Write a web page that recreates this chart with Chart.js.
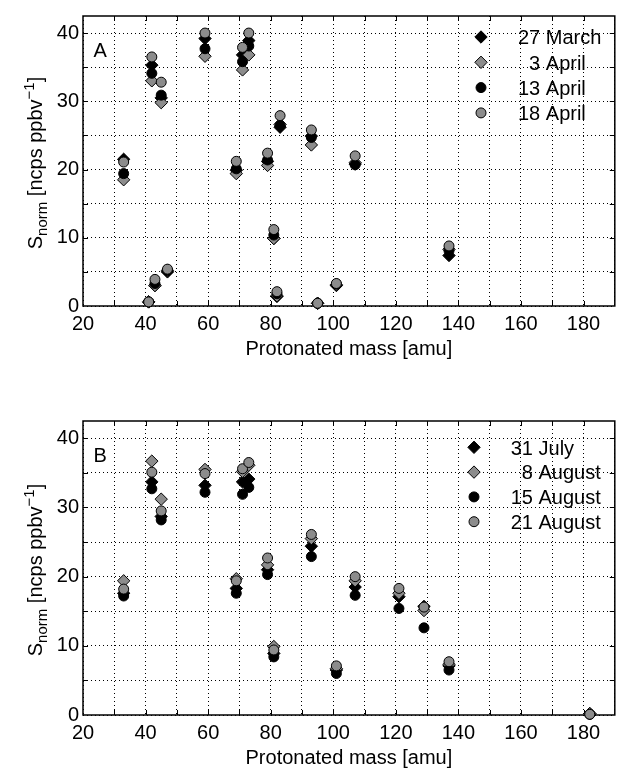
<!DOCTYPE html>
<html><head><meta charset="utf-8">
<script src="https://cdn.jsdelivr.net/npm/chart.js@4.4.0/dist/chart.umd.min.js"></script>
<style>
html,body{margin:0;padding:0;overflow:hidden;background:#fff;width:618px;height:768px;position:relative}
.wrap{position:absolute;left:0;width:622px;height:384px}
canvas{display:block}
</style></head><body>
<div class="wrap" style="top:0"><canvas id="cA" width="622" height="384"></canvas></div>
<div class="wrap" style="top:384px"><canvas id="cB" width="622" height="384"></canvas></div>
<script>
const FONT = '"Liberation Sans", Arial, Helvetica, sans-serif';
const GRAY = '#8c8c8c';

// ---- Panel A data ----
const massA   = [33, 41, 42, 43, 45, 47, 59, 69, 71, 73, 79, 81, 82, 83, 93, 95, 101, 107, 137];
const march27 = [21.5, 0.6, 35.3, 3.0, 30.5, 5.0, 39.2, 19.9, 36.8, 38.9, 21.2, 9.9, 1.4, 26.2, 24.9, 0.4, 3.0, 20.8, 7.4];
const april3  = [18.5, 0.6, 33.0, 3.0, 29.8, 5.2, 36.6, 19.4, 34.6, 36.8, 20.6, 9.9, 1.5, 26.6, 23.6, 0.4, 3.1, 21.0, 8.3];
const april13 = [19.4, 0.6, 34.1, 3.3, 30.9, 5.2, 37.7, 20.1, 35.8, 38.1, 21.4, 10.4, 1.8, 26.5, 24.7, 0.4, 3.2, 20.7, 8.1];
const april18 = [21.1, 0.6, 36.5, 3.9, 32.8, 5.4, 40.0, 21.2, 37.9, 40.0, 22.4, 11.2, 2.1, 27.9, 25.8, 0.4, 3.3, 22.0, 8.8];
const labelsA = ['27 March', '  3 April', '13 April', '18 April'];

// ---- Panel B data ----
const massB  = [33, 42, 45, 59, 69, 71, 73, 79, 81, 93, 101, 107, 121, 129, 137, 182];
const july31 = [17.6, 33.7, 28.7, 33.2, 18.3, 33.7, 34.1, 21.0, 8.9, 24.4, 6.5, 18.5, 17.1, 15.7, 7.1, 0.2];
const aug8   = [19.4, 36.7, 31.2, 35.5, 19.7, 35.2, 36.1, 21.7, 9.9, 25.5, 6.7, 19.4, 17.6, 15.1, 7.3, 0.2];
const aug15  = [17.2, 32.7, 28.2, 32.2, 17.6, 31.9, 32.9, 20.3, 8.4, 22.9, 6.0, 17.3, 15.4, 12.6, 6.5, 0.1];
const aug21  = [18.2, 35.1, 29.5, 34.9, 19.4, 35.6, 36.5, 22.7, 9.4, 26.1, 7.1, 20.0, 18.3, 15.6, 7.7, 0.1];
const labelsB = ['31 July', '  8 August', '15 August', '21 August'];

// ---- Axes ----
const xMin = 20, xMax = 190, xStep = 10, xLabelStep = 20, xLabelMax = 180;
const yMin = 0, yMax = 42.5, yStep = 5, yLabelStep = 10;
const xTitle = 'Protonated mass [amu]';

const styles = [
  {shape: 'rectRot', r: 6.2, fill: '#000'},
  {shape: 'rectRot', r: 6.2, fill: GRAY},
  {shape: 'circle', r: 5, fill: '#000'},
  {shape: 'circle', r: 5, fill: GRAY}
];

function drawMarker(ctx, st, x, y) {
  ctx.beginPath();
  if (st.shape === 'circle') {
    ctx.arc(x, y, st.r, 0, Math.PI * 2);
  } else {
    ctx.moveTo(x - st.r, y); ctx.lineTo(x, y - st.r);
    ctx.lineTo(x + st.r, y); ctx.lineTo(x, y + st.r);
    ctx.closePath();
  }
  ctx.fillStyle = st.fill; ctx.fill();
  ctx.lineWidth = 1; ctx.strokeStyle = '#000'; ctx.stroke();
}

function drawYTitle(ctx, cx, cy) {
  ctx.save();
  ctx.translate(cx, cy);
  ctx.rotate(-Math.PI / 2);
  const parts = [
    {t: 'S', s: 20, dy: 0}, {t: 'norm', s: 15, dy: 5},
    {t: ' [ncps ppbv', s: 20, dy: 0}, {t: '\u22121', s: 15, dy: -8},
    {t: ']', s: 20, dy: 0}
  ];
  let total = 0;
  parts.forEach(p => { ctx.font = p.s + 'px ' + FONT; p.w = ctx.measureText(p.t).width; total += p.w; });
  let x = -total / 2;
  ctx.fillStyle = '#000'; ctx.textAlign = 'left'; ctx.textBaseline = 'alphabetic';
  parts.forEach(p => { ctx.font = p.s + 'px ' + FONT; ctx.fillText(p.t, x, p.dy); x += p.w; });
  ctx.restore();
}

function makeChart(id, mass, series, labels, letter, geo) {
  const datasets = series.map((vals, i) => ({
    label: labels[i],
    data: mass.map((m, k) => ({x: m, y: vals[k]})),
    pointStyle: styles[i].shape,
    pointRadius: styles[i].r,
    pointHoverRadius: styles[i].r,
    pointBackgroundColor: styles[i].fill,
    pointBorderColor: '#000',
    pointBorderWidth: 1,
    showLine: false,
    clip: false,
    order: series.length - 1 - i
  }));

  const deco = {
    id: 'deco',
    beforeDatasetsDraw(chart) {
      const {ctx, chartArea: a, scales: {x, y}} = chart;
      ctx.save();
      ctx.strokeStyle = '#000';
      ctx.lineWidth = 1;
      ctx.beginPath();
      x.ticks.forEach(t => {
        if (t.value <= xMin || t.value >= xMax) return;
        const px = Math.round(x.getPixelForValue(t.value)) + 0.5;
        ctx.moveTo(px, a.bottom); ctx.lineTo(px, a.bottom - 5);
        ctx.moveTo(px, a.top); ctx.lineTo(px, a.top + 5);
      });
      y.ticks.forEach(t => {
        if (t.value <= yMin || t.value >= yMax) return;
        const py = Math.round(y.getPixelForValue(t.value)) + 0.5;
        ctx.moveTo(a.left, py); ctx.lineTo(a.left + 5, py);
        ctx.moveTo(a.right, py); ctx.lineTo(a.right - 5, py);
      });
      ctx.stroke();
      ctx.lineWidth = 1.5;
      ctx.strokeRect(a.left, a.top, a.right - a.left, a.bottom - a.top);
      ctx.restore();
    },
    afterDraw(chart) {
      const {ctx, chartArea: a} = chart;
      ctx.save();
      ctx.font = '20px ' + FONT;
      ctx.textAlign = 'left';
      ctx.textBaseline = 'alphabetic';
      labels.forEach((lab, i) => {
        const yy = geo.legY0 + i * geo.legDy;
        drawMarker(ctx, styles[i], geo.legX, yy);
        ctx.fillStyle = '#000';
        ctx.fillText(lab, geo.legTextX, yy + 7.3);
      });
      ctx.fillText(letter, a.left + 10.5, a.top + 41.3);
      ctx.textAlign = 'center';
      ctx.fillText(xTitle, (a.left + a.right) / 2, a.bottom + 49);
      ctx.restore();
      drawYTitle(ctx, 42, (a.top + a.bottom) / 2 + 2);
    }
  };

  return new Chart(document.getElementById(id), {
    type: 'scatter',
    data: {datasets},
    options: {
      responsive: false,
      animation: false,
      events: [],
      layout: {padding: {top: geo.padTop, right: 3, bottom: 0, left: 0}},
      plugins: {legend: {display: false}, tooltip: {enabled: false}},
      scales: {
        x: {
          type: 'linear', min: xMin, max: xMax,
          afterFit: s => { s.height = geo.xAxisH; },
          ticks: {
            stepSize: xStep, padding: 6, color: '#000', maxRotation: 0, autoSkip: false,
            includeBounds: false,
            font: {family: FONT, size: 20},
            callback: v => (v % xLabelStep === 0 && v <= xLabelMax) ? String(v) : ''
          },
          grid: {color: '#000', lineWidth: 1, drawTicks: false},
          border: {display: false, dash: [1, 3]}
        },
        y: {
          type: 'linear', min: yMin, max: yMax,
          afterFit: s => { s.width = 83; },
          ticks: {
            stepSize: yStep, padding: 4, color: '#000', autoSkip: false,
            includeBounds: false,
            font: {family: FONT, size: 20},
            callback: v => (v % yLabelStep === 0) ? String(v) : ''
          },
          grid: {color: '#000', lineWidth: 1, drawTicks: false},
          border: {display: false, dash: [1, 3]}
        }
      }
    },
    plugins: [deco]
  });
}

makeChart('cA', massA, [march27, april3, april13, april18], labelsA, 'A',
  {padTop: 12, xAxisH: 78, legX: 481, legTextX: 518, legY0: 37, legDy: 25.3});
makeChart('cB', massB, [july31, aug8, aug15, aug21], labelsB, 'B',
  {padTop: 37, xAxisH: 53, legX: 474, legTextX: 510.7, legY0: 63.3, legDy: 24.8});
</script>
</body></html>
